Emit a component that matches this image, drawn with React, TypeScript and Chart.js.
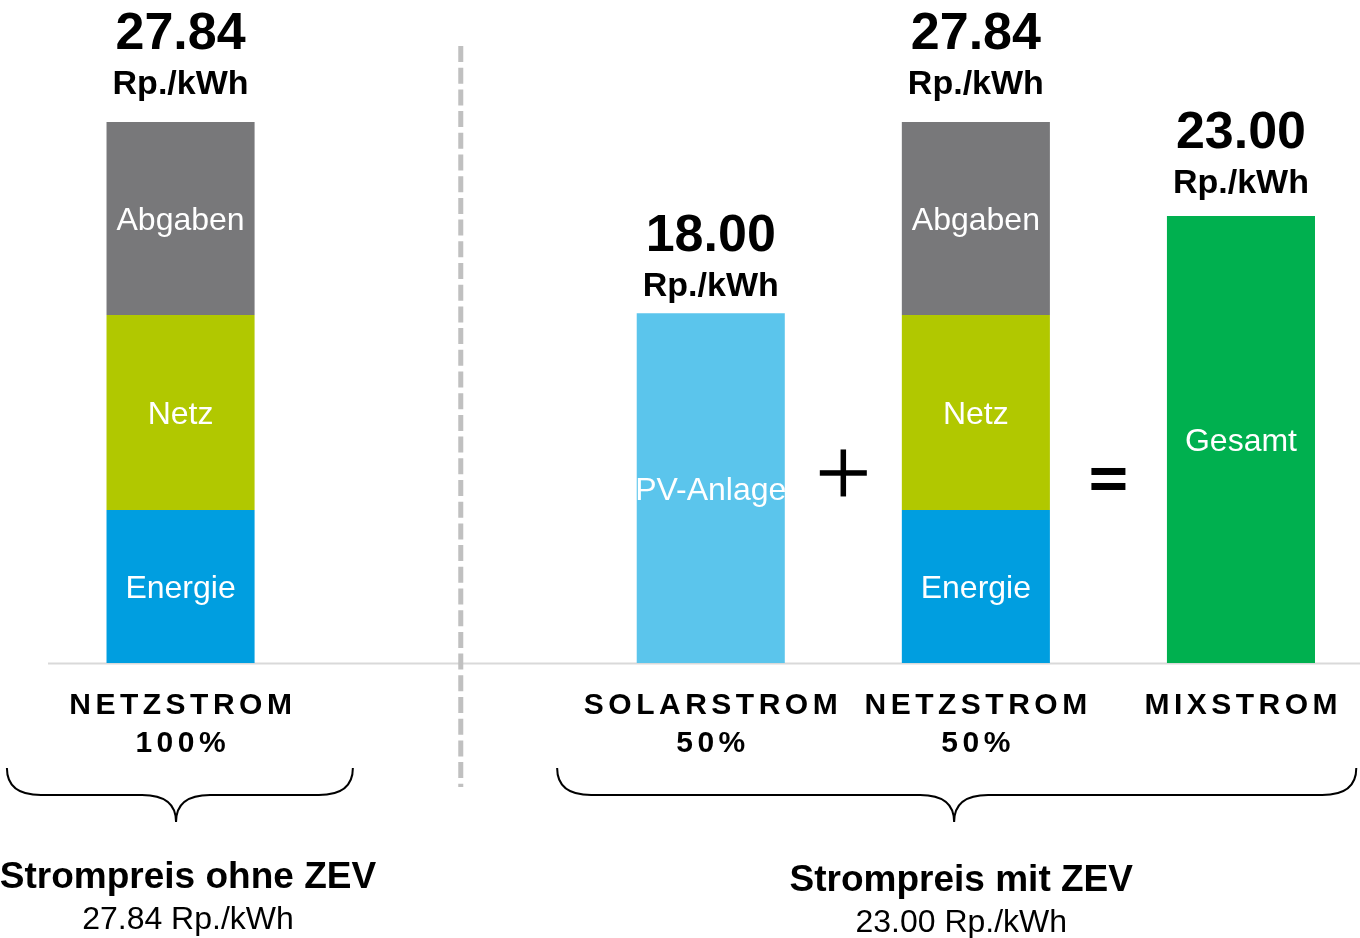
import React, { useEffect, useRef } from 'react';
import { Chart, registerables } from 'chart.js';

Chart.register(...registerables);

// ---- data ----
const categoryLines = [['NETZSTROM', '100%'], ['SOLARSTROM', '50%'], ['NETZSTROM', '50%'], ['MIXSTROM']];
const slots = [0, 2, 3, 4];
const energie = [7.87, null, 7.87, null];
const netz = [10.04, null, 10.04, null];
const abgaben = [9.93, null, 9.93, null];
const pvAnlage = [null, 18.0, null, null];
const gesamt = [null, null, null, 23.0];
const totals = [27.84, 18.0, 27.84, 23.0];
const unitLabel = 'Rp./kWh';
const groupTitles = ['Strompreis ohne ZEV', 'Strompreis mit ZEV'];
const groupValues = [27.84, 23.0];

const FONT = '"Liberation Sans", Arial, sans-serif';

const mk = (label: string, values: (number | null)[], color: string) => ({
  label,
  data: values
    .map((v, i) => (v == null ? null : { x: slots[i], y: v }))
    .filter((p) => p !== null),
  backgroundColor: color,
  borderWidth: 0,
  categoryPercentage: 1,
  barPercentage: 0.5585,
  stack: 's',
});

function spacedText(ctx: CanvasRenderingContext2D, text: string, cx: number, y: number, spacing: number) {
  const chars = Array.from(text);
  const widths = chars.map((c) => ctx.measureText(c).width);
  const total = widths.reduce((a, b) => a + b, 0) + spacing * (chars.length - 1);
  let xx = cx - total / 2;
  ctx.textAlign = 'left';
  chars.forEach((c, i) => {
    ctx.fillText(c, xx, y);
    xx += widths[i] + spacing;
  });
}

function brace(ctx: CanvasRenderingContext2D, xl: number, xt: number, xr: number, yTop: number, yMid: number, yTip: number, r: number) {
  ctx.beginPath();
  ctx.moveTo(xl, yTop);
  ctx.quadraticCurveTo(xl, yMid, xl + r, yMid);
  ctx.lineTo(xt - r, yMid);
  ctx.quadraticCurveTo(xt, yMid, xt, yTip);
  ctx.quadraticCurveTo(xt, yMid, xt + r, yMid);
  ctx.lineTo(xr - r, yMid);
  ctx.quadraticCurveTo(xr, yMid, xr, yTop);
  ctx.stroke();
}

const braceSpans = [
  { from: -0.655, tip: -0.017, to: 0.65 },
  { from: 1.4205, tip: 2.918, to: 4.435 },
];
const groupCenters = [0.028, 2.945];

const overlay = {
  id: 'overlay',
  beforeDatasetsDraw(chart: any) {
    const { ctx, chartArea } = chart;
    const y0 = chart.scales.y.getPixelForValue(0);
    ctx.save();
    ctx.strokeStyle = '#d9d9d9';
    ctx.lineWidth = 2;
    ctx.beginPath();
    ctx.moveTo(chartArea.left, y0 + 0.5);
    ctx.lineTo(chartArea.right, y0 + 0.5);
    ctx.stroke();
    ctx.restore();
  },
  afterDraw(chart: any) {
    const { ctx } = chart;
    const xs = chart.scales.x;
    const ys = chart.scales.y;
    const y0 = ys.getPixelForValue(0);
    ctx.save();

    // dashed separator
    ctx.strokeStyle = '#c0c0c0';
    ctx.lineWidth = 5;
    ctx.setLineDash([16, 5.7]);
    const dx = xs.getPixelForValue(1.057);
    ctx.beginPath();
    ctx.moveTo(dx, 46);
    ctx.lineTo(dx, y0 + 124);
    ctx.stroke();
    ctx.setLineDash([]);

    // in-bar labels
    ctx.fillStyle = '#ffffff';
    ctx.font = `32px ${FONT}`;
    ctx.textAlign = 'center';
    ctx.textBaseline = 'middle';
    chart.data.datasets.forEach((ds: any, di: number) => {
      const meta = chart.getDatasetMeta(di);
      meta.data.forEach((el: any) => {
        const cy = (el.y + el.base) / 2;
        ctx.fillText(ds.label, el.x, cy + 3);
      });
    });

    // totals above bars
    ctx.fillStyle = '#000000';
    ctx.textBaseline = 'alphabetic';
    totals.forEach((t, i) => {
      const cx = xs.getPixelForValue(slots[i]);
      const unitBase = ys.getPixelForValue(t * 1.0576) + 3;
      ctx.textAlign = 'center';
      ctx.font = `bold 52px ${FONT}`;
      ctx.fillText(t.toFixed(2), cx, unitBase - 45);
      ctx.font = `bold 34px ${FONT}`;
      ctx.fillText(unitLabel, cx, unitBase);
    });

    // category labels
    ctx.font = `bold 30px ${FONT}`;
    categoryLines.forEach((lines, i) => {
      const cx = xs.getPixelForValue(slots[i]);
      lines.forEach((ln, k) => {
        spacedText(ctx, ln, cx, y0 + 51 + k * 38, 4.5);
      });
    });

    // plus sign
    const px = xs.getPixelForValue(2.5);
    const py = ys.getPixelForValue(9.78);
    ctx.fillRect(px - 23.5, py - 2.75, 47, 5.5);
    ctx.fillRect(px - 2.75, py - 23.5, 5.5, 47);

    // equal sign
    const ex = xs.getPixelForValue(3.5);
    const ey = ys.getPixelForValue(9.47);
    ctx.fillRect(ex - 17, ey - 11, 34, 7);
    ctx.fillRect(ex - 17, ey + 4, 34, 7);

    // braces
    ctx.strokeStyle = '#000000';
    ctx.lineWidth = 2;
    braceSpans.forEach((b) => {
      brace(
        ctx,
        xs.getPixelForValue(b.from),
        xs.getPixelForValue(b.tip),
        xs.getPixelForValue(b.to),
        y0 + 105,
        y0 + 132,
        y0 + 159,
        34
      );
    });

    // group titles
    ctx.textAlign = 'center';
    groupTitles.forEach((t, i) => {
      const cx = xs.getPixelForValue(groupCenters[i]);
      const extra = i === 0 ? 0 : 3;
      ctx.font = `bold 37px ${FONT}`;
      ctx.fillText(t, cx, y0 + 225 + extra);
      ctx.font = `32px ${FONT}`;
      ctx.fillText(`${groupValues[i].toFixed(2)} ${unitLabel}`, cx, y0 + 266 + extra);
    });

    ctx.restore();
  },
};

export default function App() {
  const canvasRef = useRef<HTMLCanvasElement | null>(null);

  useEffect(() => {
    const canvas = canvasRef.current;
    if (!canvas) return;
    const chart = new Chart(canvas, {
      type: 'bar',
      data: {
        datasets: [
          mk('Energie', energie, '#009ee0'),
          mk('Netz', netz, '#b1c800'),
          mk('Abgaben', abgaben, '#78787a'),
          mk('PV-Anlage', pvAnlage, '#5bc5ec'),
          mk('Gesamt', gesamt, '#00b04f'),
        ] as any,
      },
      options: {
        responsive: false,
        animation: false,
        layout: { padding: { left: 48, right: 0, top: 0, bottom: 275 } },
        plugins: {
          legend: { display: false },
          tooltip: { enabled: false },
        },
        scales: {
          x: {
            type: 'linear',
            display: false,
            offset: false,
            grid: { offset: false },
            min: -0.5,
            max: 4.449,
            afterBuildTicks: (axis: any) => {
              axis.ticks = slots.map((v) => ({ value: v }));
            },
          },
          y: {
            display: false,
            stacked: true,
            min: 0,
            max: 34.12,
          },
        },
      },
      plugins: [overlay],
    });
    return () => chart.destroy();
  }, []);

  return (
    <div style={{ position: 'absolute', left: 0, top: 0, width: 1360, height: 938, background: '#ffffff' }}>
      <canvas ref={canvasRef} width={1360} height={938} style={{ display: 'block' }} />
    </div>
  );
}
